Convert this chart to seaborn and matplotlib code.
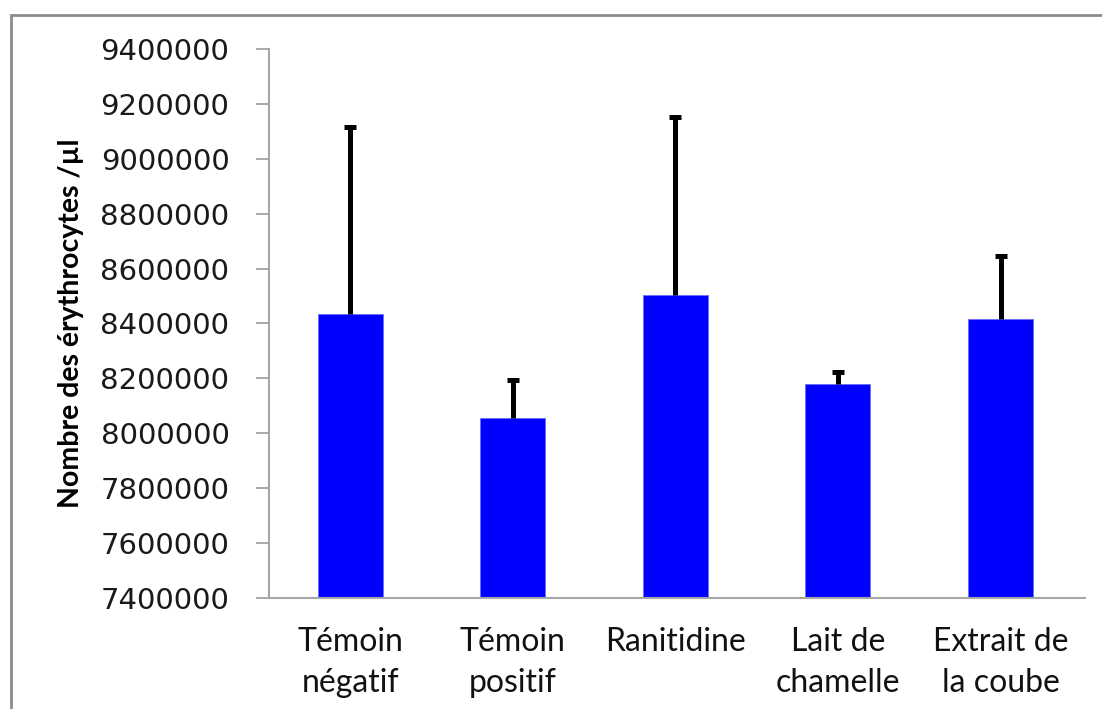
import pandas as pd
import matplotlib
matplotlib.use("Agg")
import matplotlib.pyplot as plt
import seaborn as sns
from matplotlib.patches import Rectangle

# valeurs
groupes = ["Témoin\nnégatif", "Témoin\npositif", "Ranitidine",
           "Lait de\nchamelle", "Extrait de\nla coube"]
moyennes = [8435000, 8056000, 8503000, 8181000, 8415000]
ecarts = [681000, 138000, 648000, 43000, 231000]
yticks = list(range(7400000, 9400001, 200000))

df = pd.DataFrame({"groupe": groupes, "erythro": moyennes, "err": ecarts})

sns.set_theme(style="white")
plt.rcParams["font.family"] = ["DejaVu Sans"]

fig = plt.figure(figsize=(11.02, 7.09), dpi=100)
ax = fig.add_axes([0.2441, 0.1566, 0.9846 - 0.2441, 0.9309 - 0.1566])

sns.barplot(data=df, x="groupe", y="erythro", color="#0000FF",
            saturation=1, width=0.4, ax=ax, errorbar=None,
            edgecolor="#6A6AFF", linewidth=0.6, zorder=2)

# barres d'erreur vers le haut seulement
eb = ax.errorbar(x=range(len(df)), y=df["erythro"],
                 yerr=[[0] * len(df), df["err"]],
                 fmt="none", ecolor="black", elinewidth=3.6,
                 capsize=4.6, capthick=3.6, zorder=3)
eb[1][0].set_visible(False)

ax.set_ylim(7400000, 9400000)
ax.set_xlim(-0.5, 4.52)
ax.set_yticks(yticks)
ax.set_yticklabels([str(v) for v in yticks], fontsize=21, color="#1a1a1a")
ax.set_xticks(range(len(df)))
ax.set_xticklabels(groupes, fontsize=23, family="Lato", linespacing=1.45,
                   color="#111111")
ax.tick_params(axis="y", direction="out", length=9.5, width=1.2,
               color="#9a9a9a", pad=19, left=True)
ax.tick_params(axis="x", length=0, pad=21)

for s in ["top", "right"]:
    ax.spines[s].set_visible(False)
for s in ["left", "bottom"]:
    ax.spines[s].set_color("#a6a6a6")
    ax.spines[s].set_linewidth(1.5)

ax.set_xlabel("")
ax.set_ylabel("Nombre des érythrocytes /µl", fontsize=20.5, family="Lato",
              fontweight="bold", labelpad=12, color="black")

# cadre gris autour de la zone du graphique
fig.patches.append(Rectangle((11 / 1102, -0.05), 1.2, 1 - 15 / 709 + 0.05,
                             transform=fig.transFigure, fill=False,
                             edgecolor="#8c8c8c", linewidth=2))

fig.savefig("out.png", dpi=100)
